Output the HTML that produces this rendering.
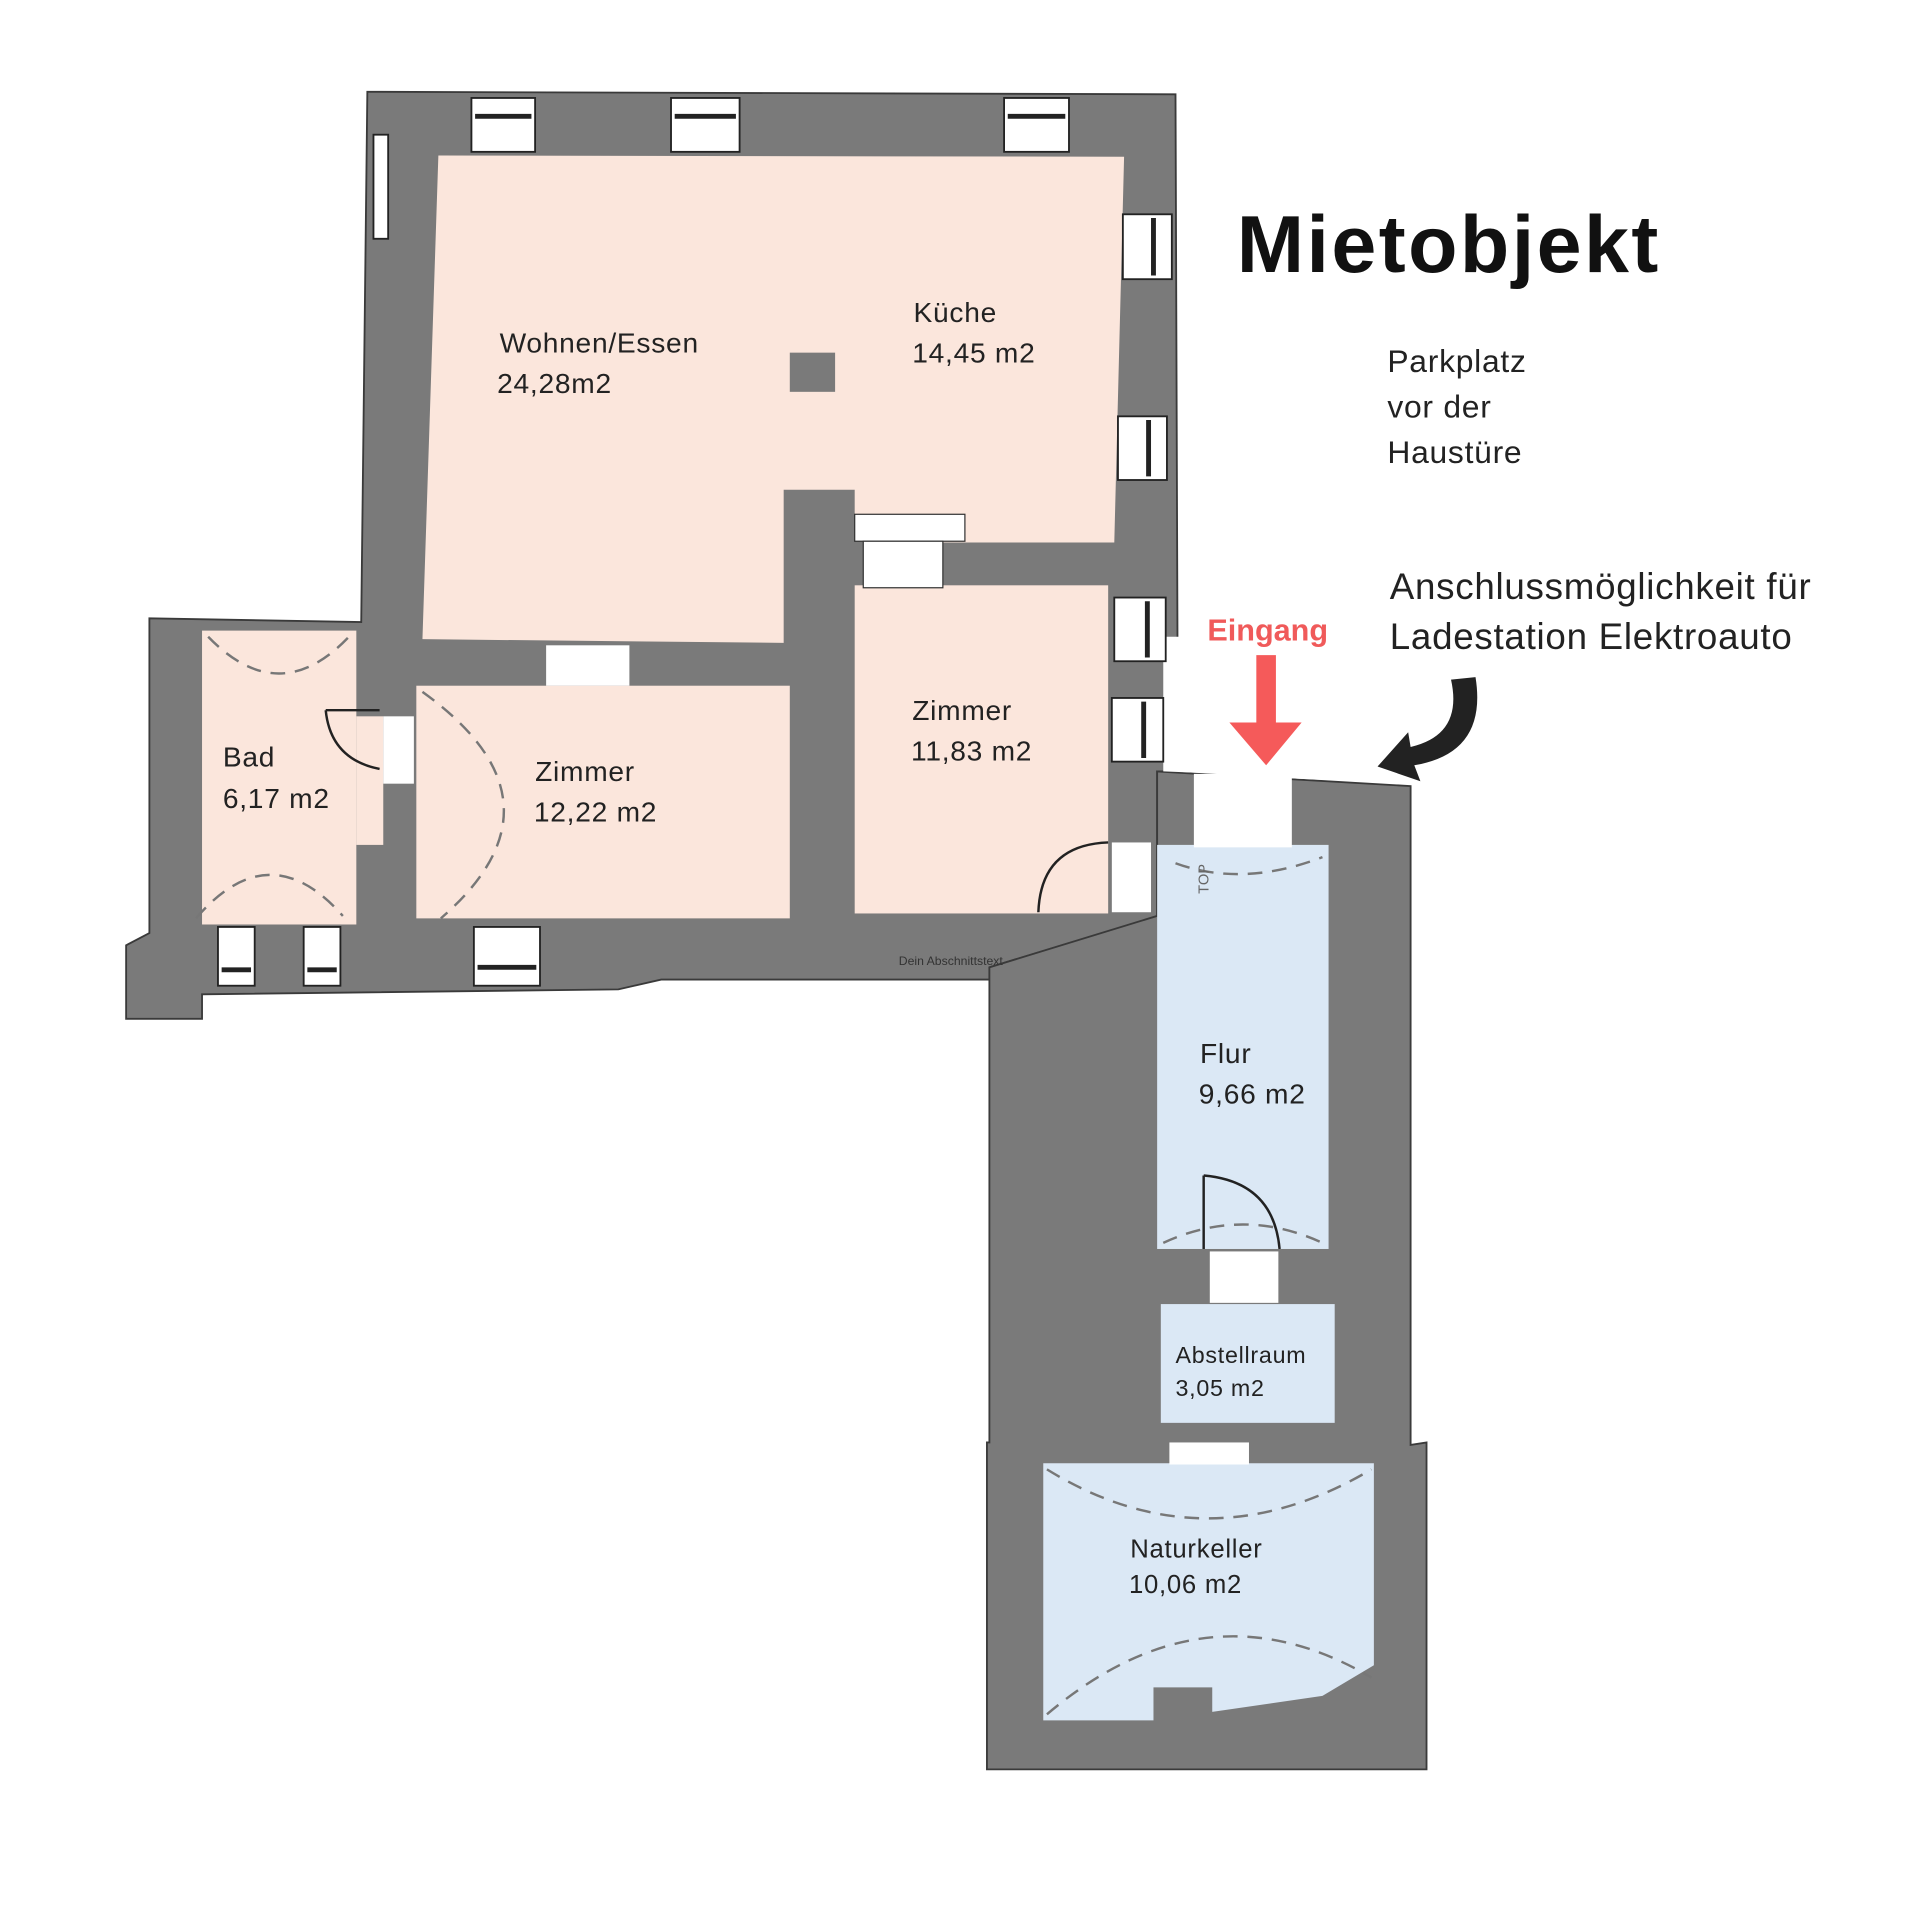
<!DOCTYPE html>
<html><head><meta charset="utf-8"><style>
html,body{margin:0;padding:0;background:#fff}
svg{display:block}
text{font-family:"Liberation Sans","DejaVu Sans",sans-serif}
</style></head><body>
<svg width="1920" height="1920" viewBox="0 0 1568 1568" xmlns="http://www.w3.org/2000/svg">
<g fill="#7a7a7a" stroke="#3a3a3a" stroke-width="1.5">
<path d="M308 75 L960 77 L962 630 L945 630 L945 748 L940 750 L808 790 L808 800 L540 800 L505 808 L165 812 L165 832 L103 832 L103 772 L122 762 L122 505 L295 508 L300 75 Z"/>
<path d="M808 790 L945 748 L945 630 L1152 642 L1152 1180 L1165 1178 L1165 1445 L806 1445 L806 1178 L808 1178 Z"/>
</g>
<g fill="#fbe6dc">
<path d="M358 127 L918 128 L910 443 L770 443 L770 440 L698 440 L698 400 L640 400 L640 525 L345 522 Z"/>
<rect x="698" y="478" width="207" height="268"/>
<rect x="340" y="560" width="305" height="190"/>
<rect x="165" y="515" width="126" height="240"/>
<rect x="291" y="585" width="22" height="105"/>
</g>
<rect x="645" y="288" width="37" height="32" fill="#7a7a7a"/>
<rect x="698" y="420" width="90" height="22" fill="#fff" stroke="#333"/>
<rect x="705" y="442" width="65" height="38" fill="#fff" stroke="#333"/>
<g fill="#dbe8f5">
<rect x="945" y="690" width="140" height="330"/>
<rect x="948" y="1065" width="142" height="97"/>
<path d="M852 1195 L1122 1195 L1122 1360 L1080 1385 L990 1398 L990 1378 L942 1378 L942 1405 L852 1405 Z"/>
</g>
<g fill="#fff">
<path d="M950 520 L1150 520 L1150 640 L1060 636 L1000 632 L950 630 Z"/>
<rect x="975" y="632" width="80" height="60"/>
<rect x="908" y="688" width="32" height="57"/>
<rect x="988" y="1022" width="56" height="42"/>
<rect x="955" y="1178" width="65" height="18"/>
<rect x="446" y="527" width="68" height="33"/>
<rect x="313" y="585" width="25" height="55"/>
</g>
<g fill="#fff" stroke="#222" stroke-width="1.5">
<rect x="385" y="80" width="52" height="44"/><rect x="548" y="80" width="56" height="44"/><rect x="820" y="80" width="53" height="44"/>
<rect x="917" y="175" width="40" height="53"/><rect x="913" y="340" width="40" height="52"/><rect x="910" y="488" width="42" height="52"/><rect x="908" y="570" width="42" height="52"/>
<rect x="178" y="757" width="30" height="48"/><rect x="248" y="757" width="30" height="48"/><rect x="387" y="757" width="54" height="48"/>
<rect x="305" y="110" width="12" height="85"/>
</g>
<g stroke="#222" stroke-width="4">
<line x1="388" y1="95" x2="434" y2="95"/><line x1="551" y1="95" x2="601" y2="95"/><line x1="823" y1="95" x2="870" y2="95"/>
<line x1="942" y1="178" x2="942" y2="225"/><line x1="938" y1="343" x2="938" y2="389"/><line x1="937" y1="491" x2="937" y2="537"/><line x1="934" y1="573" x2="934" y2="619"/>
<line x1="181" y1="792" x2="205" y2="792"/><line x1="251" y1="792" x2="275" y2="792"/><line x1="390" y1="790" x2="438" y2="790"/>
</g>
<g fill="none" stroke="#777" stroke-width="2" stroke-dasharray="12 8">
<path d="M170 520 Q228 580 285 520"/>
<path d="M160 750 Q220 680 280 748"/>
<path d="M345 565 Q470 655 360 750"/>
<path d="M960 705 Q1015 725 1080 700"/>
<path d="M950 1015 Q1015 985 1080 1015"/>
<path d="M855 1200 Q985 1280 1120 1200"/>
<path d="M855 1400 Q985 1290 1120 1370"/>
</g>
<g fill="none" stroke="#222" stroke-width="2">
<path d="M266 580 Q270 620 310 628"/><line x1="266" y1="580" x2="310" y2="580"/>
<path d="M848 745 Q850 690 905 688"/>
<path d="M983 960 Q1040 965 1045 1020"/><line x1="983" y1="960" x2="983" y2="1020"/>
</g>
<text x="945" y="742" font-size="12" fill="#666" transform="rotate(-90 960 715)">TOP</text>
<text x="734" y="788" font-size="10" fill="#333">Dein Abschnittstext</text>
<g font-size="23" fill="#222" letter-spacing="0.6">
<text x="408" y="288">Wohnen/Essen</text><text x="406" y="321">24,28m2</text>
<text x="746" y="263">Küche</text><text x="745" y="296">14,45 m2</text>
<text x="745" y="588">Zimmer</text><text x="744" y="621">11,83 m2</text>
<text x="437" y="638">Zimmer</text><text x="436" y="671">12,22 m2</text>
<text x="182" y="626">Bad</text><text x="182" y="660">6,17 m2</text>
<text x="980" y="868">Flur</text><text x="979" y="901">9,66 m2</text>
<text x="923" y="1272" font-size="21">Naturkeller</text><text x="922" y="1301" font-size="21">10,06 m2</text>
<text x="960" y="1113" font-size="19">Abstellraum</text><text x="960" y="1140" font-size="19">3,05 m2</text>
<text x="1133" y="304" font-size="26">Parkplatz</text><text x="1133" y="341" font-size="26">vor der</text><text x="1133" y="378" font-size="26">Haustüre</text>
<text x="1135" y="489" font-size="30">Anschlussmöglichkeit für</text><text x="1135" y="530" font-size="30">Ladestation Elektroauto</text>
</g>
<text x="1010" y="222" font-size="66" font-weight="bold" fill="#111" letter-spacing="2">Mietobjekt</text>
<text x="986" y="523" font-size="25" font-weight="bold" fill="#f05a5a">Eingang</text>
<path d="M1026 535 L1042 535 L1042 590 L1063 590 L1034 625 L1004 590 L1026 590 Z" fill="#f55a5a"/>
<path d="M1185 555 L1205 553 Q1215 615 1155 625 L1160 638 L1125 626 L1150 598 L1152 610 Q1195 600 1185 555 Z" fill="#222"/>
</svg>
</body></html>
